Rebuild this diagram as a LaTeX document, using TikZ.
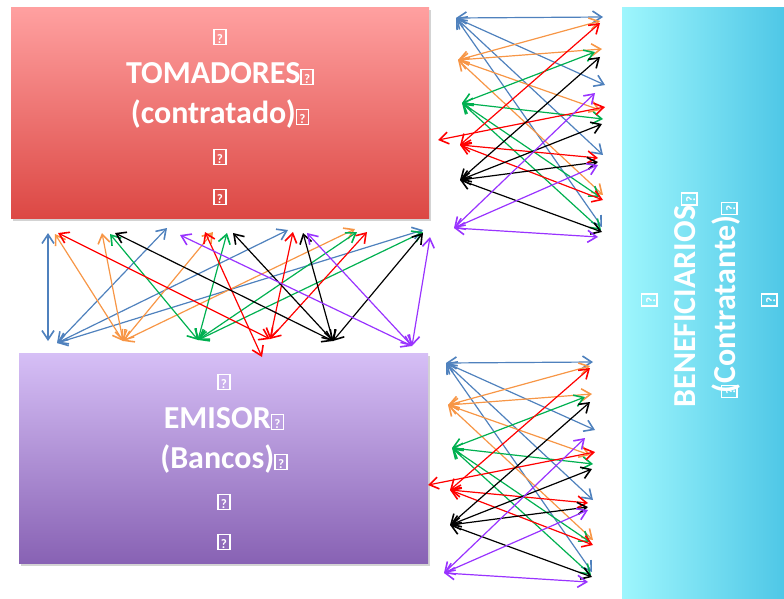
\documentclass[tikz,border=0pt]{standalone}
\usepackage{fontspec}
\setmainfont{Carlito}
\usetikzlibrary{arrows.meta,shadows}

\definecolor{blueL}{RGB}{79,129,189}
\definecolor{orangeL}{RGB}{247,150,70}
\definecolor{greenL}{RGB}{0,176,80}
\definecolor{redL}{RGB}{255,0,0}
\definecolor{blackL}{RGB}{0,0,0}
\definecolor{purpleL}{RGB}{153,51,255}
\definecolor{redTop}{RGB}{255,160,160}
\definecolor{redBot}{RGB}{220,72,68}
\definecolor{violTop}{RGB}{214,191,246}
\definecolor{violBot}{RGB}{136,98,180}
\definecolor{cyanL}{RGB}{158,246,253}
\definecolor{cyanR}{RGB}{70,194,228}

% placeholder glyph box, as the slide text shows it
\newcommand\tofu{{\setlength\fboxsep{0.8pt}\setlength\fboxrule{1.4pt}%
  \fbox{\makebox[9pt]{\rule{0pt}{12.5pt}\fontsize{13}{13}\selectfont ?}}}}

\tikzset{
  barb/.tip={Straight Barb[length=9pt,width=12pt,line width=1.6pt]},
  link/.style={line width=1.2pt, barb-barb},
  panel/.style={rectangle, inner sep=0pt,
    drop shadow={shadow xshift=1.5pt, shadow yshift=-2.5pt, opacity=0.35}},
  paneltext/.style={text=white, align=center, inner sep=0pt,
    font=\fontsize{32}{40}\selectfont\bfseries},
  % bundle of crossing links beside a panel
  fanset/.pic={
    \foreach \n/\x/\y in {hB/456/18, hO/458/60, hG/462/103, hR/460/145,
        hK/460/180, hP/454/228, xR/438/140,
        tB1/603/17, tB2/605/85, tB3/603/155, tB4/602/227,
        tO1/600/21, tO2/602/49, tO3/600/110, tO4/603/195,
        tG1/595/52, tG2/603/119, tG3/600/197, tG4/601/230,
        tR1/600/23, tR2/598/158, tR3/603/200, tR4/605/107,
        tK1/600/57, tK2/602/124, tK3/598/162, tK4/602/232,
        tP1/595/93, tP2/598/165, tP3/598/237}
      \coordinate (-\n) at (\x,\y);
    \foreach \a/\b/\c in {hB/tB1/blueL, hB/tB2/blueL, hB/tB3/blueL, hB/tB4/blueL,
        hO/tO1/orangeL, hO/tO2/orangeL, hO/tO3/orangeL, hO/tO4/orangeL,
        hG/tG1/greenL, hG/tG2/greenL, hG/tG3/greenL, hG/tG4/greenL,
        hR/tR1/redL, hR/tR2/redL, hR/tR3/redL, xR/tR4/redL,
        hK/tK1/blackL, hK/tK2/blackL, hK/tK3/blackL, hK/tK4/blackL,
        hP/tP1/purpleL, hP/tP2/purpleL, hP/tP3/purpleL}
      \draw[link, draw=\c] (-\a) -- (-\b);
  }
}

\begin{document}
\begin{tikzpicture}[x=1pt, y=-1pt]
\useasboundingbox (0,0) rectangle (784,599);

% panels
\node[panel, minimum width=418pt, minimum height=210pt,
      top color=redTop, bottom color=redBot] (tom) at (220,113) {};
\node[panel, minimum width=409pt, minimum height=210pt,
      top color=violTop, bottom color=violBot] (emi) at (223.5,458) {};
\node[panel, minimum width=180pt, minimum height=604pt,
      left color=cyanL, right color=cyanR] (ben) at (712,310) {};

\node[paneltext] (tomtxt) at (220,117)
  {\tofu\\TOMADORES\tofu\\(contratado)\tofu\\\tofu\\\tofu};
\node[paneltext] (emitxt) at (224,462)
  {\tofu\\EMISOR\tofu\\(Bancos)\tofu\\\tofu\\\tofu};
\node[paneltext, rotate=90] (bentxt) at (709,300)
  {\tofu\\BENEFICIARIOS\tofu\\\tofu\kern-9pt(Contratante)\tofu\\\tofu};

% links beside the upper and lower panels
\pic (fa) at (0,0) {fanset};
\pic (fc) at (-10,345) {fanset};

% links between the two left panels
\foreach \n/\x/\y in {vT/48/233, vB/48/341, mB/57/343, mO/123/341, mR/270/339,
    mG/198/340, mK/333/341, mP/412/346, rS/205/232, rE/262/357,
    uB1/167/228, uB2/288/230, uB3/423/230,
    uO1/55/234, uO2/102/233, uO3/213/232, uO4/355/229,
    uR1/58/233, uR2/293/232, uR3/367/232,
    uG1/110/234, uG2/227/233, uG3/357/232, uG4/423/232,
    uK1/115/233, uK2/233/233, uK3/303/233, uK4/423/233,
    uP1/180/235, uP2/307/233, uP3/430/237}
  \coordinate (\n) at (\x,\y);
\foreach \a/\b/\c in {vT/vB/blueL, mB/uB1/blueL, mB/uB2/blueL, mB/uB3/blueL,
    mO/uO1/orangeL, mO/uO2/orangeL, mO/uO3/orangeL, mO/uO4/orangeL,
    mG/uG1/greenL, mG/uG2/greenL, mG/uG3/greenL, mG/uG4/greenL,
    mR/uR1/redL, mR/uR2/redL, mR/uR3/redL, rS/rE/redL,
    mK/uK1/blackL, mK/uK2/blackL, mK/uK3/blackL, mK/uK4/blackL,
    mP/uP1/purpleL, mP/uP2/purpleL, mP/uP3/purpleL}
  \draw[link, draw=\c] (\a) -- (\b);
\end{tikzpicture}
\end{document}
